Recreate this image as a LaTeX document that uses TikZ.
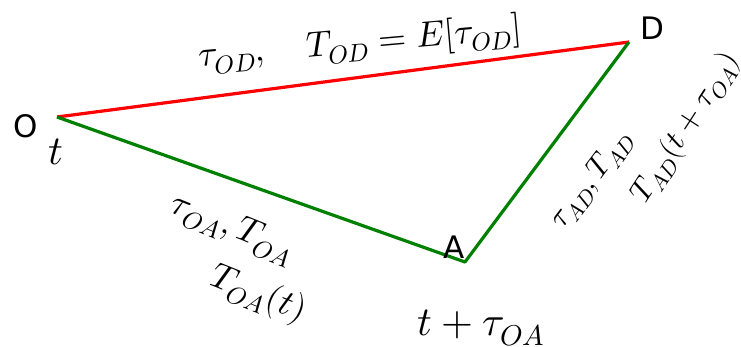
\documentclass[tikz,border=0pt]{standalone}
\usepackage{fontspec}
\usepackage{unicode-math}
\newfontfamily\vertfont{DejaVu Sans}

\tikzset{
    vert/.style={font=\vertfont\fontsize{31}{33}\selectfont},
    lab/.style={font=\fontsize{36}{40}\selectfont},
    smlab/.style={font=\fontsize{31}{34}\selectfont},
    biglab/.style={font=\fontsize{41}{44}\selectfont},
    edgeOD/.style={draw=red, line width=3.2pt},
    edgeG/.style={draw={rgb,255:red,0;green,128;blue,0}, line width=3.2pt}
}

\begin{document}
\begin{tikzpicture}[x=1pt, y=-1pt]
    \useasboundingbox (0,0) rectangle (741,346);
    \coordinate (o) at (57,117);
    \coordinate (a) at (465,262);
    \coordinate (d) at (629,42);
    \draw[edgeOD] (o) -- (d);
    \draw[edgeG, line join=round] (o) -- (a) -- (d);
    \node[vert] (labO) at (26,126) {O};
    \node[vert] (labA) at (454,247) {A};
    \node[vert] (labD) at (652,28) {D};
    \node[biglab, anchor=base] (tO) at (56,164) {$t$};
    \node[biglab, anchor=base west] (tA) at (414,335) {$t+\tau_{OA}$};
    \node[lab, rotate=5] (lOD) at (360,44) {$\tau_{OD},\quad T_{OD}=E[\tau_{OD}]$};
    \node[lab, rotate=-22] (lOA) at (232,229) {$\tau_{OA},T_{OA}$};
    \node[lab, rotate=-22] (lOAt) at (258,295) {$T_{OA}(t)$};
    \node[smlab, rotate=53] (lAD) at (592,180) {$\tau_{AD},T_{AD}$};
    \node[smlab, rotate=57] (lADt) at (686,128) {$T_{AD}(t+\tau_{OA})$};
\end{tikzpicture}
\end{document}
